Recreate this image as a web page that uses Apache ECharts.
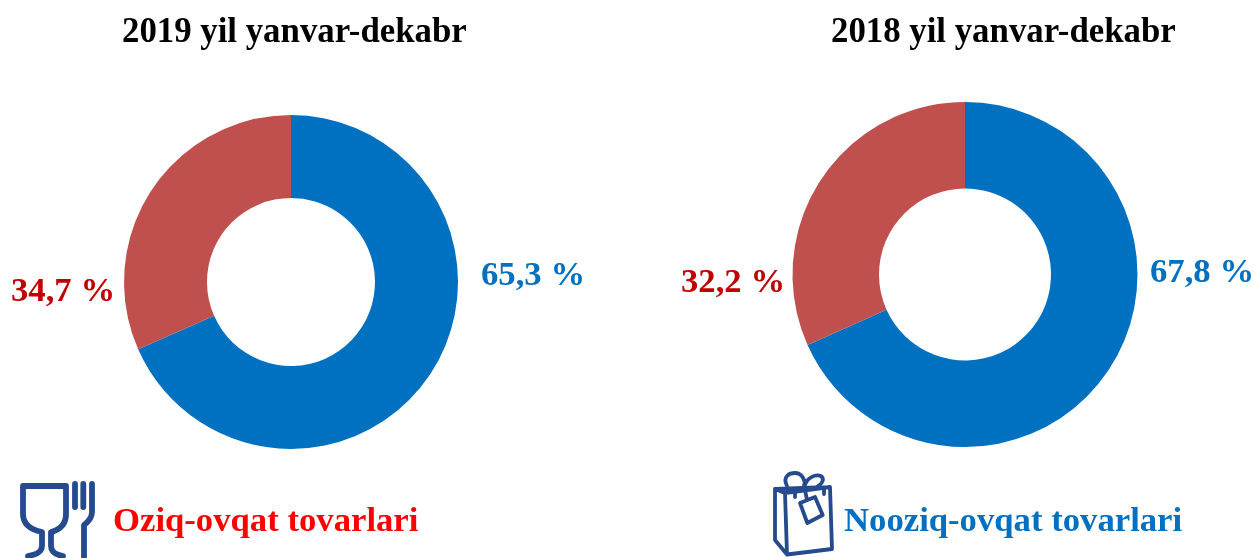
<!DOCTYPE html>
<html>
<head>
<meta charset="utf-8">
<style>
html,body{margin:0;padding:0;background:#fff}
#chartmain{width:1255px;height:558px}
</style>
<script src="https://cdn.jsdelivr.net/npm/echarts@6/dist/echarts.min.js"></script>
</head>
<body>
<div id="chartmain"></div>
<script>
var titles = ['2019 yil yanvar-dekabr', '2018 yil yanvar-dekabr'];
var categories = ['Nooziq-ovqat tovarlari', 'Oziq-ovqat tovarlari'];
//printed labels
var labels2019 = ['65,3 %', '34,7 %'];
var labels2018 = ['67,8 %', '32,2 %'];
//slice sizes as actually drawn in the picture, they do not follow the printed labels
var slices2019 = [68.4, 31.6];
var slices2018 = [68.3, 31.7];

var FONT = '"Liberation Serif"';
var BLUE = '#0070c0', RED = '#c0504d', DARKRED = '#c00000', ICON = '#254a8e';

//icons, pasted pictures in the original
var foodIcon = "<svg xmlns='http://www.w3.org/2000/svg' width='90' height='83' viewBox='10 475 90 83' fill='none' stroke='" + ICON + "' stroke-width='5.8' stroke-linecap='round' stroke-linejoin='round'>"
	+ "<path d='M23 486 H66 V514 Q66 528 51 532 V546 Q51 554 63 556 M23 486 V514 Q23 528 42 532 V546 Q42 554 28 556'/>"
	+ "<path d='M75 484 V507 M83.3 484 V507 M92 484 V512 Q92 519 84 525 V560'/></svg>";
var bagIcon = "<svg xmlns='http://www.w3.org/2000/svg' width='85' height='93' viewBox='760 465 85 93' fill='none' stroke='" + ICON + "' stroke-width='3.8' stroke-linecap='round' stroke-linejoin='round'>"
	+ "<path d='M775 489 L830 487 L832 549 L787 554.5 L775 540 Z M775 489 L785 493 L787 554.5 M785 493 L830 487'/>"
	+ "<path d='M787 486 C782 476 790 473 795 473 C802 473 805 480 805 485 C807 478 815 474 821 476 C825 479 822 484 818 486'/>"
	+ "<path d='M800 503 L815 497 L822.7 515 L807.3 523 Z M807 500 L804 485 M795 491 V497 M824 488 V494'/></svg>";

function pie(data, center, r){
	return {
		type:'pie',
		center:center,
		radius:r,
		startAngle:90,
		clockwise:true,
		silent:true,
		label:{show:false},
		labelLine:{show:false},
		data:[
			{name:categories[0], value:data[0], itemStyle:{color:BLUE}},
			{name:categories[1], value:data[1], itemStyle:{color:RED}}
		]
	};
}
function text(str, x, y, size, color){
	return {type:'text', x:x, y:y, style:{text:str, font:'bold '+size+'px '+FONT, fill:color, textVerticalAlign:'middle'}};
}
function icon(svg, x, y, w, h){
	return {type:'image', x:x, y:y, style:{image:'data:image/svg+xml;charset=utf-8,'+encodeURIComponent(svg), width:w, height:h}};
}

var myChart = echarts.init(document.getElementById('chartmain'), null, {renderer:'canvas'});
myChart.setOption({
	animation:false,
	backgroundColor:'#fff',
	series:[
		pie(slices2019, [291, 282], [84, 167]),
		pie(slices2018, [965, 274.5], [86, 172.5])
	],
	graphic:[
		text(titles[0], 122, 33, 34.8, '#000'),
		text(titles[1], 831, 33, 34.8, '#000'),
		text(labels2019[1], 11, 292, 34.7, DARKRED),
		text(labels2019[0], 481, 276, 34.7, BLUE),
		text(labels2018[1], 681, 283, 34.7, DARKRED),
		text(labels2018[0], 1150, 273, 34.7, BLUE),
		text(categories[1], 113, 522, 34.7, '#ff0000'),
		text(categories[0], 844, 522, 34.7, BLUE),
		icon(foodIcon, 10, 475, 90, 83),
		icon(bagIcon, 760, 465, 85, 93)
	]
});
</script>
</body>
</html>
